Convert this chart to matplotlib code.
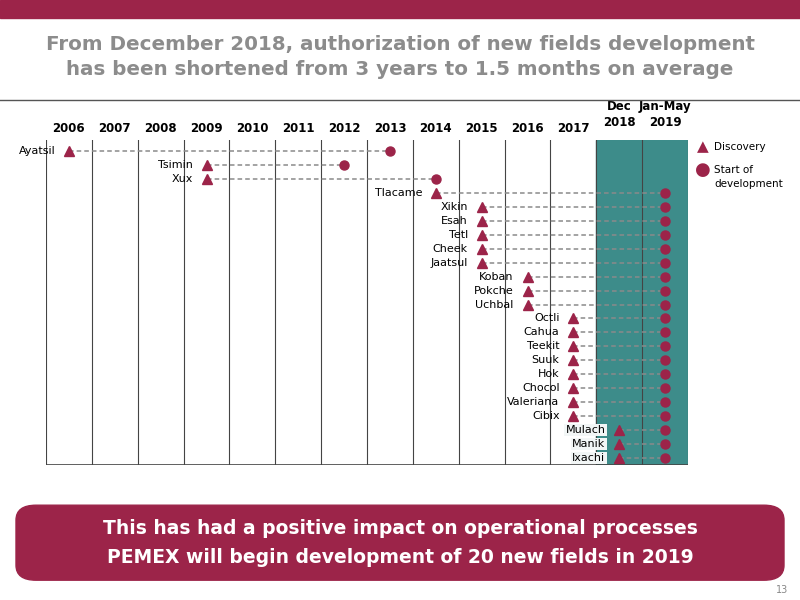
import matplotlib.pyplot as plt
from matplotlib.patches import Rectangle, FancyBboxPatch

maroon = '#9c2449'
teal = '#3d8c8a'

years = ['2006', '2007', '2008', '2009', '2010', '2011', '2012', '2013', '2014',
         '2015', '2016', '2017']
fields = ['Ayatsil', 'Tsimin', 'Xux', 'Tlacame', 'Xikin', 'Esah', 'Tetl', 'Cheek',
          'Jaatsul', 'Koban', 'Pokche', 'Uchbal', 'Octli', 'Cahua', 'Teekit', 'Suuk',
          'Hok', 'Chocol', 'Valeriana', 'Cibix', 'Mulach', 'Manik', 'Ixachi']
# column index: 0 = 2006 ... 11 = 2017, 12 = Dec 2018, 13 = Jan-May 2019
discovery = [0, 3, 3, 8, 9, 9, 9, 9, 9, 10, 10, 10, 11, 11, 11, 11, 11, 11, 11, 11, 12, 12, 12]
start_dev = [7, 6, 8, 13, 13, 13, 13, 13, 13, 13, 13, 13, 13, 13, 13, 13, 13, 13, 13, 13, 13, 13, 13]

fig = plt.figure(figsize=(8, 6), dpi=100)

# top band and title
fig.patches.append(Rectangle((0, 0.97), 1, 0.03, transform=fig.transFigure, color=maroon))
fig.text(0.5, 0.905, 'From December 2018, authorization of new fields development\n'
         'has been shortened from 3 years to 1.5 months on average',
         ha='center', va='center', fontsize=14.3, fontweight='bold', color='#8c8c8c',
         linespacing=1.35)
fig.add_artist(plt.Line2D([0, 1], [0.833, 0.833], color='#555555', lw=1))

ax = fig.add_axes([0.0575, 0.225, 0.8025, 0.5417])
ax.set_xlim(-0.5, 13.5)
ax.set_ylim(22.5, -0.79)
ax.axis('off')

ax.add_patch(Rectangle((11.5, 22.5), 2, -23.29, color=teal, zorder=0))
for i in range(15):
    ax.axvline(i - 0.5, color='#444444', lw=0.8, zorder=1)
ax.axhline(22.5, color='#444444', lw=1.2)

for i, y in enumerate(years):
    ax.text(i, -1.6, y, ha='center', va='center', fontsize=8.5, fontweight='bold')
ax.text(12, -2.6, 'Dec\n2018', ha='center', va='center', fontsize=8.5, fontweight='bold',
        linespacing=1.3)
ax.text(13, -2.6, 'Jan-May\n2019', ha='center', va='center', fontsize=8.5, fontweight='bold',
        linespacing=1.3)

for r, (name, d, s) in enumerate(zip(fields, discovery, start_dev)):
    ax.plot([d, s], [r, r], ls='--', color='#8a8a8a', lw=1.1, dashes=(3, 2), zorder=2)
    ax.plot(d, r, marker='^', color=maroon, ms=7, zorder=3)
    ax.plot(s, r, marker='o', color=maroon, ms=6.5, zorder=3)
    box = dict(facecolor='#f2f6f6', edgecolor='none', pad=1) if d == 12 else None
    ax.text(d - 0.3, r, name, ha='right', va='center', fontsize=8, bbox=box, zorder=4)

# legend
fig.text(0.878, 0.755, '\u25B2', color=maroon, fontsize=11, va='center', ha='center')
fig.text(0.893, 0.755, 'Discovery', fontsize=7.5, va='center')
fig.text(0.878, 0.717, '\u25CF', color=maroon, fontsize=13, va='center', ha='center')
fig.text(0.893, 0.705, 'Start of\ndevelopment', fontsize=7.5, va='center', linespacing=1.4)

# bottom box
fig.patches.append(FancyBboxPatch((0.02, 0.033), 0.96, 0.125, boxstyle='round,pad=0,rounding_size=0.025',
                                  transform=fig.transFigure, color=maroon))
fig.text(0.5, 0.12, 'This has had a positive impact on operational processes', color='white',
         ha='center', va='center', fontsize=13.5, fontweight='bold')
fig.text(0.5, 0.071, 'PEMEX will begin development of 20 new fields in 2019', color='white',
         ha='center', va='center', fontsize=13.5, fontweight='bold')
fig.text(0.985, 0.017, '13', fontsize=7, color='#888888', ha='right', va='center')

fig.savefig('out.png')
